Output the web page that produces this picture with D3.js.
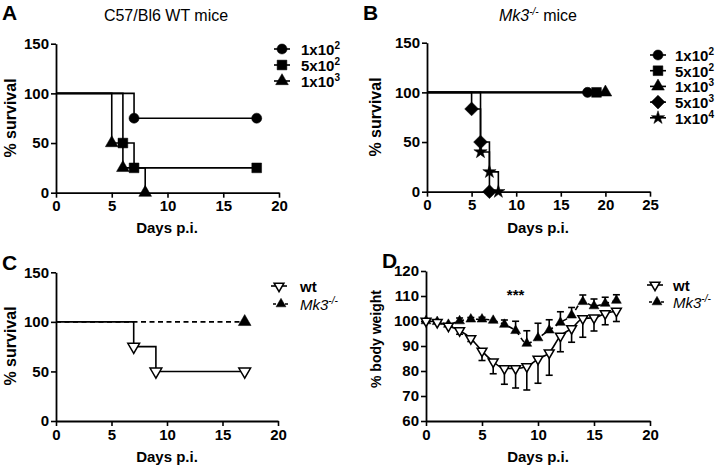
<!DOCTYPE html>
<html><head><meta charset="utf-8">
<script src="https://cdn.jsdelivr.net/npm/d3@7"></script>
<style>body{margin:0;background:#fff}svg{display:block}</style>
</head><body>
<script>
// ---------- DATA ----------
// Panel A: C57/Bl6 WT mice, Kaplan-Meier steps [day, % survival]
const aLabels = ["1x10|2", "5x10|2", "1x10|3"];
const aDose1e2 = [[0,100],[7,75],[18,75]];
const aDose5e2 = [[0,100],[6,50],[7,25],[18,25]];
const aDose1e3 = [[0,100],[5,50],[6,25],[8,0]];
// Panel B: Mk3-/- mice
const bLabels = ["1x10|2", "5x10|2", "1x10|3", "5x10|3", "1x10|4"];
const bDose1e2 = [[0,100],[18,100]];
const bDose5e2 = [[0,100],[19,100]];
const bDose1e3 = [[0,100],[20,100]];
const bDose5e3 = [[0,100],[5,83.3],[6,50],[7,0]];
const bDose1e4 = [[0,100],[6,40],[7,20],[8,0]];
// Panel C: wt vs Mk3-/-
const cWt  = [[0,100],[7,75],[9,50],[17,50]];
const cMk3 = [[0,100],[17,100]];
// Panel D: % body weight, mean and error
const dDays    = [0,1,2,3,4,5,6,7,8,9,10,11,12,13,14,15,16,17];
const dWtMean  = [100,99.5,98,96.2,93,88,83.7,81,81,81.8,84.8,87.3,94,97,101,101.3,103,104];
const dWtErr   = [0,0.3,0.6,1.5,1.2,3.8,4.8,6.3,7.8,9.4,9.7,9,6.3,5.5,7.5,5.3,4.5,4.2];
const dMkMean  = [100,99.7,98.6,100,100.7,100.7,100.2,98.6,96.1,91,93.2,96.3,99.4,102.3,107.7,106,107,108.2];
const dMkErr   = [0,0.3,0.5,1.2,0.7,0.8,0.5,1.8,3.8,5.1,5.9,4.2,4.3,3.1,2.7,2.8,2.5,2.3];
// Axis ticks
const ticksA_x = [0,5,10,15,20], ticksA_y = [0,50,100,150];
const ticksB_x = [0,5,10,15,20,25], ticksB_y = [0,50,100,150];
const ticksC_x = [0,5,10,15,20], ticksC_y = [0,50,100,150];
const ticksD_x = [0,5,10,15,20], ticksD_y = [60,70,80,90,100,110,120];

// ---------- DRAW ----------
const FONT = "'Liberation Sans', Arial, Helvetica, sans-serif";
const W = 720, H = 471;
const svg = d3.select("body").append("svg").attr("width", W).attr("height", H)
  .style("font-family", FONT);

function makeAxes(x, y, xt, yt) {
  const gx = svg.append("g").attr("transform", `translate(0,${y.range()[0]})`)
    .call(d3.axisBottom(x).tickValues(xt).tickSize(5).tickSizeOuter(0).tickPadding(3));
  const gy = svg.append("g").attr("transform", `translate(${x.range()[0]},0)`)
    .call(d3.axisLeft(y).tickValues(yt).tickSize(5).tickSizeOuter(0).tickPadding(2));
  [gx, gy].forEach(g => {
    g.select(".domain").attr("stroke", "#000").attr("stroke-width", 1.8);
    g.selectAll(".tick line").attr("stroke", "#000").attr("stroke-width", 1.6);
    g.selectAll(".tick text").attr("fill", "#000").style("font-size", "15px")
      .style("font-weight", "bold").style("font-family", FONT);
  });
}
function label(txt, xpos, ypos, opts = {}) {
  const t = svg.append("text").attr("x", xpos).attr("y", ypos)
    .attr("text-anchor", opts.anchor || "middle")
    .style("font-size", (opts.size || 15) + "px")
    .style("font-weight", opts.weight || "bold").text(txt);
  if (opts.rotate) t.attr("transform", `rotate(-90,${xpos},${ypos})`);
  return t;
}
function supText(xpos, ypos, base, sup, opts = {}) {
  const t = svg.append("text").attr("x", xpos).attr("y", ypos)
    .style("font-size", (opts.size || 15) + "px").style("font-weight", opts.weight || "bold")
    .attr("text-anchor", opts.anchor || "start");
  t.append("tspan").text(base).style("font-style", opts.italic ? "italic" : "normal");
  t.append("tspan").text(sup).attr("dy", -6).style("font-size", (opts.supSize || 10) + "px")
    .style("font-style", opts.italic ? "italic" : "normal");
  if (opts.rest) t.append("tspan").text(opts.rest).attr("dy", 6).style("font-weight", opts.restWeight || "normal");
  return t;
}
const sym = {
  circle:   {type: d3.symbolCircle, size: 80, rot: 0},
  square:   {type: d3.symbolSquare, size: 95, rot: 0},
  triangle: {type: d3.symbolTriangle, size: 70, rot: 0},
  diamond:  {type: d3.symbolSquare, size: 95, rot: 45},
  star:     {type: d3.symbolStar, size: 55, rot: 0},
  tdown:    {type: d3.symbolTriangle, size: 60, rot: 180, open: true},
  tdownS:   {type: d3.symbolTriangle, size: 42, rot: 180, open: true},
  tupS:     {type: d3.symbolTriangle, size: 42, rot: 0}
};
function marker(cx, cy, s) {
  const m = sym[s];
  svg.append("path").attr("d", d3.symbol().type(m.type).size(m.size)())
    .attr("transform", `translate(${cx},${cy}) rotate(${m.rot})`)
    .attr("fill", m.open ? "#fff" : "#000").attr("stroke", "#000")
    .attr("stroke-width", m.open ? 1.5 : 0.5);
}
function kmCurve(x, y, data, s, dashed) {
  const line = d3.line().x(d => x(d[0])).y(d => y(d[1])).curve(d3.curveStepAfter);
  svg.append("path").datum(data).attr("d", line).attr("fill", "none")
    .attr("stroke", "#000").attr("stroke-width", 1.6)
    .attr("stroke-dasharray", dashed ? "5,3.5" : null);
  data.slice(1).forEach(d => marker(x(d[0]), y(d[1]), s));
}
function legendRow(mx, tx, yy, s, base, sup, opts = {}) {
  svg.append("line").attr("x1", mx - 8).attr("x2", mx + 8).attr("y1", yy).attr("y2", yy)
    .attr("stroke", "#000").attr("stroke-width", 1.6)
    .attr("stroke-dasharray", opts.dashed ? "3,3" : null);
  marker(mx, yy, s);
  supText(tx, yy + 6, base, sup, opts);
}

// ----- Panel A -----
{
  const x = d3.scaleLinear().domain([0, 20]).range([56, 279]);
  const y = d3.scaleLinear().domain([0, 150]).range([192.7, 43.7]);
  makeAxes(x, y, ticksA_x, ticksA_y);
  kmCurve(x, y, aDose1e2, "circle");
  kmCurve(x, y, aDose5e2, "square");
  kmCurve(x, y, aDose1e3, "triangle");
  label("A", 2, 20, {anchor: "start", size: 21});
  label("C57/Bl6 WT mice", 166, 21, {size: 16, weight: "normal"});
  label("Days p.i.", 167, 233);
  label("% survival", 16, 118, {rotate: true, size: 16});
  const shapes = ["circle", "square", "triangle"];
  aLabels.forEach((l, i) => { const [b, s] = l.split("|"); legendRow(282, 301, 49 + i * 16, shapes[i], b, s); });
}
// ----- Panel B -----
{
  const x = d3.scaleLinear().domain([0, 25]).range([427, 650]);
  const y = d3.scaleLinear().domain([0, 150]).range([191.7, 42.7]);
  makeAxes(x, y, ticksB_x, ticksB_y);
  kmCurve(x, y, bDose1e2, "circle");
  kmCurve(x, y, bDose5e2, "square");
  kmCurve(x, y, bDose1e3, "triangle");
  kmCurve(x, y, bDose5e3, "diamond");
  kmCurve(x, y, bDose1e4, "star");
  label("B", 363, 20, {anchor: "start", size: 21});
  supText(538, 21, "Mk3", "-/-", {size: 16, weight: "normal", italic: true, anchor: "middle", rest: " mice"});
  label("Days p.i.", 538, 233);
  label("% survival", 381, 117, {rotate: true, size: 16});
  const shapes = ["circle", "square", "triangle", "diamond", "star"];
  bLabels.forEach((l, i) => { const [b, s] = l.split("|"); legendRow(658, 675, 55 + i * 15.7, shapes[i], b, s); });
}
// ----- Panel C -----
{
  const x = d3.scaleLinear().domain([0, 20]).range([56, 278]);
  const y = d3.scaleLinear().domain([0, 150]).range([421, 272.3]);
  makeAxes(x, y, ticksC_x, ticksC_y);
  kmCurve(x, y, cMk3, "triangle", true);
  kmCurve(x, y, cWt, "tdown");
  label("C", 2, 270, {anchor: "start", size: 21});
  label("Days p.i.", 167, 462);
  label("% survival", 16, 346, {rotate: true, size: 16});
  legendRow(279, 300, 286, "tdownS", "wt", "");
  legendRow(281, 300, 304, "tupS", "Mk3", "-/-", {dashed: true, italic: true, weight: "normal"});
}
// ----- Panel D -----
{
  const x = d3.scaleLinear().domain([0, 20]).range([426, 650]);
  const y = d3.scaleLinear().domain([60, 120]).range([421, 271]);
  makeAxes(x, y, ticksD_x, ticksD_y);
  const line = d3.line().x(d => x(d[0])).y(d => y(d[1])).curve(d3.curveMonotoneX);
  const mk = dDays.map((d, i) => [d, dMkMean[i], dMkErr[i]]);
  const wt = dDays.map((d, i) => [d, dWtMean[i], dWtErr[i]]);
  // error bars: Mk3 upward, wt downward
  mk.forEach(d => { if (d[2] > 0.6) {
    svg.append("line").attr("x1", x(d[0])).attr("x2", x(d[0])).attr("y1", y(d[1])).attr("y2", y(d[1] + d[2])).attr("stroke", "#000").attr("stroke-width", 1.6);
    svg.append("line").attr("x1", x(d[0]) - 3.5).attr("x2", x(d[0]) + 3.5).attr("y1", y(d[1] + d[2])).attr("y2", y(d[1] + d[2])).attr("stroke", "#000").attr("stroke-width", 1.6);
  }});
  wt.forEach(d => { if (d[2] > 0.6) {
    svg.append("line").attr("x1", x(d[0])).attr("x2", x(d[0])).attr("y1", y(d[1])).attr("y2", y(d[1] - d[2])).attr("stroke", "#000").attr("stroke-width", 1.6);
    svg.append("line").attr("x1", x(d[0]) - 3.5).attr("x2", x(d[0]) + 3.5).attr("y1", y(d[1] - d[2])).attr("y2", y(d[1] - d[2])).attr("stroke", "#000").attr("stroke-width", 1.6);
  }});
  svg.append("path").datum(mk).attr("d", line).attr("fill", "none").attr("stroke", "#000")
    .attr("stroke-width", 1.6).attr("stroke-dasharray", "5,3.5");
  svg.append("path").datum(wt).attr("d", line).attr("fill", "none").attr("stroke", "#000")
    .attr("stroke-width", 1.6);
  mk.forEach(d => marker(x(d[0]), y(d[1]), "tupS"));
  wt.forEach(d => marker(x(d[0]), y(d[1]), "tdownS"));
  label("***", x(8), y(108.5), {size: 15});
  label("D", 382, 268, {anchor: "start", size: 21});
  label("Days p.i.", 538, 462);
  label("% body weight", 381, 339, {rotate: true, size: 14});
  legendRow(655, 673, 285, "tdownS", "wt", "");
  legendRow(657, 673, 302, "tupS", "Mk3", "-/-", {dashed: true, italic: true, weight: "normal"});
}
</script>
</body></html>
